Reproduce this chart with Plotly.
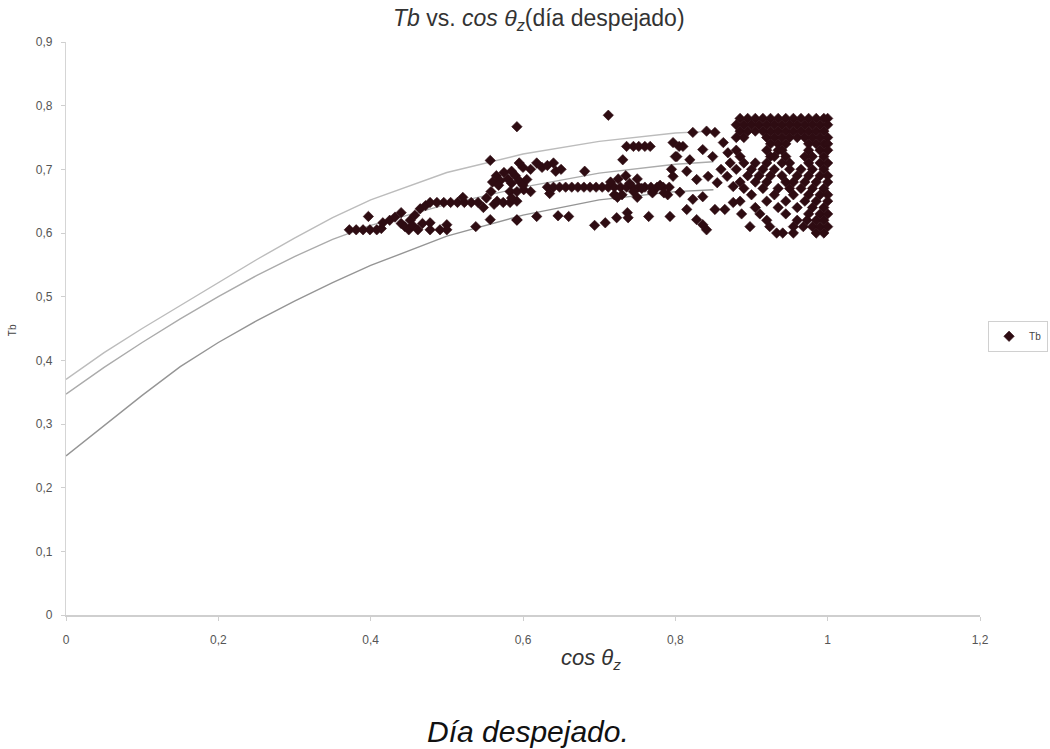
import plotly.graph_objects as go

# --- Curvas de referencia (Tb modelada frente a cos θz) ---
cos_curvas = [0, 0.05, 0.1, 0.15, 0.2, 0.25, 0.3, 0.35, 0.4, 0.5, 0.6, 0.7, 0.8, 0.85]
tb_superior = [0.37, 0.412, 0.45, 0.486, 0.522, 0.558, 0.592, 0.624, 0.652, 0.695, 0.724, 0.744, 0.757, 0.76]
tb_media = [0.347, 0.389, 0.428, 0.465, 0.5, 0.533, 0.563, 0.59, 0.612, 0.645, 0.672, 0.694, 0.708, 0.712]
tb_inferior = [0.25, 0.298, 0.345, 0.39, 0.428, 0.462, 0.493, 0.522, 0.549, 0.595, 0.628, 0.652, 0.665, 0.668]

# --- Medidas de Tb, sol bajo (cos θz < 0.6) ---
puntos_manana = [
    (0.372, 0.605), (0.381, 0.605), (0.390, 0.605), (0.399, 0.605), (0.408, 0.605), (0.414, 0.607),
    (0.397, 0.626), (0.416, 0.616), (0.425, 0.620), (0.432, 0.625), (0.440, 0.632),
    (0.440, 0.615), (0.445, 0.610), (0.450, 0.605), (0.452, 0.620), (0.455, 0.612),
    (0.458, 0.628), (0.462, 0.605), (0.468, 0.615), (0.465, 0.638), (0.472, 0.643),
    (0.478, 0.616), (0.478, 0.605), (0.491, 0.605), (0.500, 0.613), (0.500, 0.605),
    (0.478, 0.648), (0.487, 0.648), (0.496, 0.648), (0.505, 0.648), (0.514, 0.648),
    (0.523, 0.648), (0.532, 0.648), (0.541, 0.648), (0.538, 0.610), (0.521, 0.656),
    (0.548, 0.640), (0.552, 0.655), (0.558, 0.665), (0.562, 0.645), (0.566, 0.650),
    (0.560, 0.680), (0.565, 0.690), (0.570, 0.682), (0.575, 0.695), (0.580, 0.685),
    (0.585, 0.678), (0.590, 0.690), (0.595, 0.682), (0.568, 0.675), (0.557, 0.714),
    (0.557, 0.621), (0.592, 0.621), (0.574, 0.648), (0.583, 0.648), (0.592, 0.650),
    (0.583, 0.665), (0.592, 0.665), (0.585, 0.655), (0.592, 0.767),
]

# --- Medidas de Tb, sol medio (0.6 <= cos θz < 0.88) ---
puntos_mediodia = [
    (0.712, 0.785), (0.585, 0.697), (0.600, 0.703), (0.610, 0.700), (0.618, 0.710),
    (0.625, 0.703), (0.632, 0.706), (0.640, 0.710), (0.643, 0.697), (0.650, 0.700),
    (0.595, 0.710), (0.601, 0.668), (0.610, 0.665), (0.600, 0.675), (0.605, 0.684),
    (0.632, 0.672), (0.640, 0.672), (0.648, 0.672), (0.656, 0.672), (0.664, 0.672),
    (0.672, 0.672), (0.680, 0.672), (0.688, 0.672), (0.696, 0.672), (0.704, 0.672),
    (0.712, 0.672), (0.720, 0.672), (0.728, 0.672), (0.736, 0.672), (0.744, 0.672),
    (0.752, 0.672), (0.760, 0.672), (0.768, 0.672), (0.776, 0.672), (0.784, 0.672),
    (0.792, 0.672), (0.635, 0.662), (0.681, 0.697), (0.731, 0.715),
    (0.736, 0.736), (0.745, 0.736), (0.752, 0.736), (0.760, 0.736), (0.767, 0.736),
    (0.715, 0.680), (0.725, 0.685), (0.730, 0.660), (0.740, 0.678), (0.745, 0.665),
    (0.750, 0.685), (0.735, 0.690), (0.720, 0.660), (0.756, 0.670),
    (0.770, 0.665), (0.780, 0.675), (0.790, 0.660), (0.795, 0.700), (0.800, 0.720), (0.805, 0.736),
    (0.592, 0.620), (0.618, 0.626), (0.646, 0.627), (0.660, 0.626), (0.694, 0.612),
    (0.708, 0.616), (0.723, 0.624), (0.737, 0.632), (0.738, 0.624), (0.765, 0.626),
    (0.793, 0.626), (0.724, 0.656), (0.750, 0.656), (0.770, 0.663), (0.785, 0.663),
    (0.823, 0.758), (0.841, 0.760), (0.852, 0.758), (0.797, 0.742), (0.810, 0.736),
    (0.802, 0.720), (0.819, 0.715), (0.836, 0.731), (0.849, 0.720), (0.863, 0.742),
    (0.869, 0.726), (0.797, 0.689), (0.815, 0.697), (0.828, 0.684), (0.843, 0.689),
    (0.855, 0.679), (0.868, 0.689), (0.876, 0.673), (0.806, 0.664), (0.823, 0.653),
    (0.836, 0.657), (0.852, 0.637), (0.865, 0.637), (0.815, 0.637), (0.828, 0.621),
    (0.841, 0.605), (0.836, 0.613), (0.876, 0.648), (0.860, 0.700), (0.872, 0.710),
]

# --- Medidas de Tb, sol alto (cos θz >= 0.88), agrupadas por nivel de Tb ---
tb_niveles = [0.78, 0.77, 0.76, 0.75, 0.74, 0.73, 0.72, 0.71, 0.70, 0.69,
              0.68, 0.67, 0.66, 0.65, 0.64, 0.63, 0.62, 0.61, 0.60]
cos_por_nivel = [
    [0.885, 0.895, 0.905, 0.915, 0.925, 0.935, 0.945, 0.955, 0.965, 0.975, 0.985, 0.995, 1.0],
    [0.88, 0.89, 0.90, 0.91, 0.92, 0.93, 0.94, 0.95, 0.96, 0.97, 0.98, 0.99, 1.0],
    [0.885, 0.895, 0.905, 0.915, 0.925, 0.935, 0.945, 0.955, 0.965, 0.975, 0.985, 0.995],
    [0.88, 0.89, 0.92, 0.93, 0.94, 0.95, 0.96, 0.97, 0.98, 0.99, 1.0],
    [0.925, 0.935, 0.945, 0.975, 0.985, 0.995, 1.0],
    [0.88, 0.92, 0.935, 0.94, 0.975, 0.99, 1.0],
    [0.885, 0.925, 0.93, 0.945, 0.97, 0.98, 0.995],
    [0.89, 0.905, 0.92, 0.94, 0.95, 0.975, 0.99, 1.0],
    [0.88, 0.90, 0.915, 0.93, 0.95, 0.965, 0.98, 0.995],
    [0.895, 0.91, 0.925, 0.94, 0.96, 0.975, 0.99, 1.0],
    [0.885, 0.905, 0.92, 0.945, 0.955, 0.97, 0.985, 1.0],
    [0.89, 0.915, 0.935, 0.95, 0.965, 0.98, 0.995],
    [0.90, 0.93, 0.955, 0.975, 0.99, 1.0],
    [0.885, 0.92, 0.945, 0.97, 0.985, 1.0],
    [0.905, 0.935, 0.96, 0.98, 0.995],
    [0.887, 0.911, 0.945, 0.975, 0.99, 1.0],
    [0.92, 0.96, 0.973, 0.985, 0.995],
    [0.898, 0.924, 0.955, 0.968, 0.98, 0.99, 1.0],
    [0.933, 0.941, 0.955, 0.985, 0.995],
]

cos_tb = [c for c, _ in puntos_manana] + [c for c, _ in puntos_mediodia]
valores_tb = [t for _, t in puntos_manana] + [t for _, t in puntos_mediodia]
for nivel, fila in zip(tb_niveles, cos_por_nivel):
    cos_tb += fila
    valores_tb += [nivel] * len(fila)

fig = go.Figure()

for serie, color in [(tb_superior, "#bcbcbc"), (tb_media, "#ababab"), (tb_inferior, "#959595")]:
    fig.add_trace(go.Scatter(
        x=cos_curvas, y=serie, mode="lines", line=dict(color=color, width=1.4),
        showlegend=False, hoverinfo="skip",
    ))

fig.add_trace(go.Scatter(
    x=cos_tb, y=valores_tb, mode="markers", name="Tb",
    marker=dict(symbol="diamond", size=8, color="#2e0c12", line=dict(width=0.6, color="#2e0c12")),
))

fuente = "Liberation Sans, Arial, sans-serif"

fig.update_layout(
    width=1050, height=749, autosize=False,
    margin=dict(l=66, r=70, t=42, b=134, autoexpand=False),
    paper_bgcolor="white", plot_bgcolor="white",
    separators=", ",
    font=dict(family=fuente, color="#555555", size=11),
    showlegend=True,
    legend=dict(
        xref="container", yref="container",
        x=0.941, y=0.551, xanchor="left", yanchor="middle",
        bordercolor="#d0d0d0", borderwidth=1, bgcolor="white",
        font=dict(size=10, color="#444444"), itemwidth=30,
        tracegroupgap=0,
    ),
    xaxis=dict(
        range=[0, 1.2], dtick=0.2, tick0=0, showgrid=False, zeroline=False,
        showline=True, linecolor="#cfcfcf", linewidth=1.5,
        ticks="outside", ticklen=4, tickcolor="#cfcfcf", ticklabelstandoff=9,
        tickfont=dict(size=12, color="#555555"),
    ),
    yaxis=dict(
        range=[0, 0.9], dtick=0.1, tick0=0, showgrid=False, zeroline=False,
        showline=True, linecolor="#d5d5d5", linewidth=1.2,
        ticks="outside", ticklen=4, tickcolor="#cfcfcf", ticklabelstandoff=6,
        tickfont=dict(size=12, color="#555555"),
    ),
)

fig.add_annotation(
    text="<i>Tb</i> vs. <i>cos θ</i><sub><i>z</i></sub>(día despejado)",
    xref="paper", yref="paper", x=0.518, y=1.0, yshift=23, showarrow=False,
    font=dict(family=fuente, size=23, color="#333333"), xanchor="center", yanchor="middle",
)
fig.add_annotation(
    text="<i>cos θ</i><sub><i>z</i></sub>",
    xref="paper", yref="paper", x=0.574, y=0, yshift=-44, showarrow=False,
    font=dict(family=fuente, size=22, color="#333333"), xanchor="center", yanchor="middle",
)
fig.add_annotation(
    text="Tb", textangle=-90,
    xref="paper", yref="paper", x=0, xshift=-54, y=0.497, showarrow=False,
    font=dict(family=fuente, size=10, color="#444444"), xanchor="center", yanchor="middle",
)
fig.add_annotation(
    text="<i>Día despejado.</i>",
    xref="paper", yref="paper", x=0.505, y=0, yshift=-116, showarrow=False,
    font=dict(family=fuente, size=30, color="#111111"), xanchor="center", yanchor="middle",
)

fig.write_html("out.html", config={"displayModeBar": False})
